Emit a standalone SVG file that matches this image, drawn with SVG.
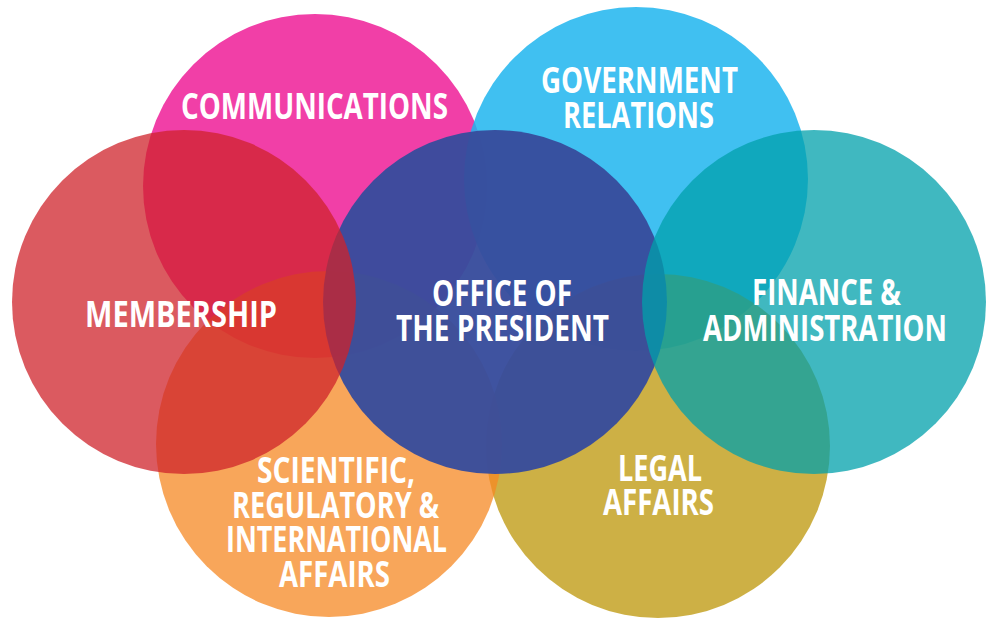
<svg xmlns="http://www.w3.org/2000/svg" width="989" height="620" viewBox="0 0 989 620">
  <style>
    .lbl { font-family: "Open Sans", "Liberation Sans", sans-serif; font-weight: 700; font-size: 35px; fill: #ffffff; text-anchor: middle; }
  </style>
  <rect x="0" y="0" width="989" height="620" fill="#ffffff"/>
  <g id="node-communications">
    <circle cx="315" cy="186" r="172" fill="#F13FA7"/>
    <text class="lbl" x="314.5" y="119" textLength="267" lengthAdjust="spacingAndGlyphs">COMMUNICATIONS</text>
  </g>
  <g id="node-government-relations">
    <circle cx="636" cy="179" r="172" fill="#1FB5EE" fill-opacity="0.85"/>
    <text class="lbl" x="639.5" y="93" textLength="197" lengthAdjust="spacingAndGlyphs">GOVERNMENT</text>
    <text class="lbl" x="638.5" y="128" textLength="151" lengthAdjust="spacingAndGlyphs">RELATIONS</text>
  </g>
  <g id="node-legal-affairs">
    <circle cx="658" cy="446" r="172" fill="#BC9607" fill-opacity="0.75"/>
    <text class="lbl" x="660" y="481" textLength="84" lengthAdjust="spacingAndGlyphs">LEGAL</text>
    <text class="lbl" x="658.5" y="515" textLength="111" lengthAdjust="spacingAndGlyphs">AFFAIRS</text>
  </g>
  <g id="node-scientific">
    <circle cx="329" cy="444" r="173" fill="#F58823" fill-opacity="0.75"/>
    <text class="lbl" x="336" y="483" textLength="158" lengthAdjust="spacingAndGlyphs">SCIENTIFIC,</text>
    <text class="lbl" x="335.5" y="518" textLength="207" lengthAdjust="spacingAndGlyphs">REGULATORY &amp;</text>
    <text class="lbl" x="336.5" y="552" textLength="221" lengthAdjust="spacingAndGlyphs">INTERNATIONAL</text>
    <text class="lbl" x="334.5" y="587" textLength="111" lengthAdjust="spacingAndGlyphs">AFFAIRS</text>
  </g>
  <g id="node-office-of-the-president">
    <circle cx="495" cy="302" r="172" fill="#374C9C" fill-opacity="0.96"/>
    <text class="lbl" x="502" y="306" textLength="140" lengthAdjust="spacingAndGlyphs">OFFICE OF</text>
    <text class="lbl" x="502.5" y="341" textLength="213" lengthAdjust="spacingAndGlyphs">THE PRESIDENT</text>
  </g>
  <g id="node-membership">
    <circle cx="184" cy="302" r="172" fill="#CF232B" fill-opacity="0.75"/>
    <text class="lbl" x="181" y="327" textLength="192" lengthAdjust="spacingAndGlyphs">MEMBERSHIP</text>
  </g>
  <g id="node-finance-administration">
    <circle cx="814" cy="302" r="172" fill="#00A0AB" fill-opacity="0.75"/>
    <text class="lbl" x="826.5" y="305" textLength="149" lengthAdjust="spacingAndGlyphs">FINANCE &amp;</text>
    <text class="lbl" x="825" y="341" textLength="244" lengthAdjust="spacingAndGlyphs">ADMINISTRATION</text>
  </g>
  <g id="connectors"/>
</svg>
